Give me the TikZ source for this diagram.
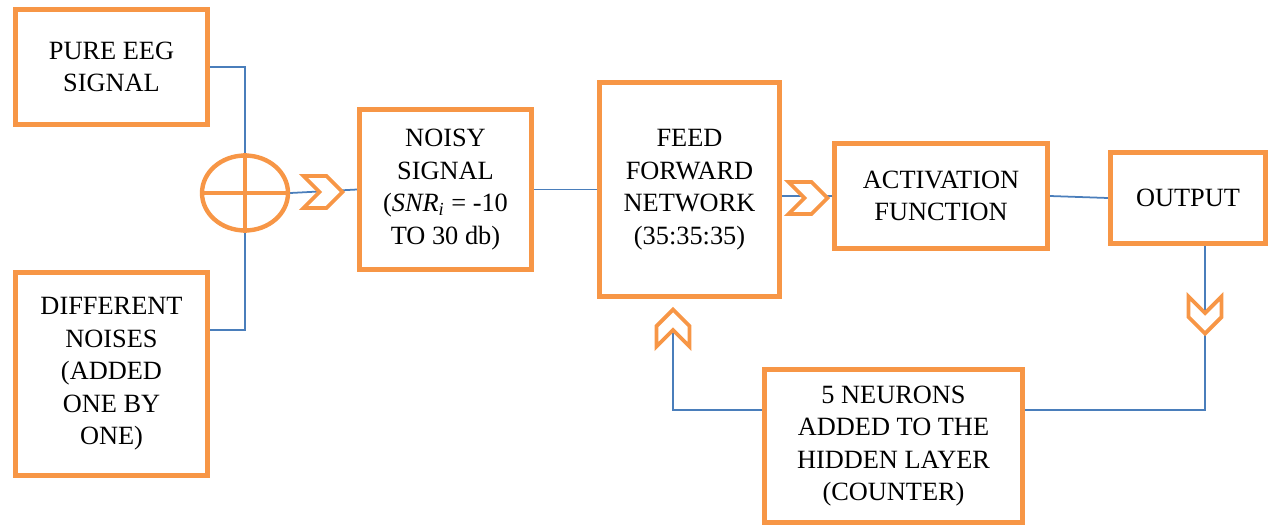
\documentclass[tikz,border=0pt]{standalone}
\usepackage{fontspec}
\setmainfont{LiberationSerif}[Extension=.ttf, UprightFont=*-Regular, ItalicFont=*-Italic,
  BoldFont=*-Bold, BoldItalicFont=*-BoldItalic]
\usetikzlibrary{shapes.geometric,shapes.symbols,backgrounds,calc}

\definecolor{boxorange}{HTML}{F79646}
\definecolor{wireblue}{HTML}{4A7EBB}

\begin{document}
\begin{tikzpicture}[
    x=0.02cm, y=0.02cm,
    font=\fontsize{15}{18.5}\selectfont,
    blk/.style={rectangle, draw=boxorange, line width=2.8pt, fill=white,
                align=center, inner sep=2pt},
    sumnode/.style={ellipse, draw=boxorange, line width=2.5pt, inner sep=0pt,
                minimum width=1.72cm, minimum height=1.5cm},
    chev/.style={signal, signal from=west, signal to=east, draw=boxorange,
                line width=2.2pt, fill=white, inner sep=0pt},
    chevr/.style={chev, minimum width=0.78cm, minimum height=0.64cm},
    chevd/.style={chev, rotate=-90, minimum width=0.74cm, minimum height=0.66cm},
    chevu/.style={chev, rotate=90, minimum width=0.74cm, minimum height=0.66cm},
    wire/.style={draw=wireblue, line width=1pt}
]
\useasboundingbox (0,0) rectangle (1271,529);

% ---- Blocks (absolute positions) ----
\node[blk, minimum width=3.84cm, minimum height=2.3cm]  (pure)   at (111.5,462) {PURE EEG\\SIGNAL};
\node[blk, minimum width=3.84cm, minimum height=4.06cm] (noises) at (111.5,155) {DIFFERENT\\NOISES\\(ADDED\\ONE BY\\ONE)};
\node[sumnode] (sum) at (245,336) {};
\node[blk, minimum width=3.44cm, minimum height=3.2cm]  (noisy)  at (445.5,339.5) {NOISY\\SIGNAL\\(\textit{SNR}\textsubscript{\textit{i}} = -10\\TO 30 db)};
\node[blk, minimum width=3.6cm, minimum height=4.28cm]  (ffn)    at (689.5,339.5) {FEED\\FORWARD\\NETWORK\\(35:35:35)};
\node[blk, minimum width=4.26cm, minimum height=2.1cm]  (act)    at (941,333) {ACTIVATION\\FUNCTION};
\node[blk, minimum width=3.1cm, minimum height=1.82cm]  (out)    at (1188,331) {OUTPUT};
\node[blk, minimum width=5.16cm, minimum height=3.06cm] (neur)   at (893.5,83) {5 NEURONS\\ADDED TO THE\\HIDDEN LAYER\\(COUNTER)};

% ---- Summing junction ----
\draw[boxorange, line width=2.5pt] (sum.north) -- (sum.south) (sum.west) -- (sum.east);

% ---- Chevrons ----
\node[chevr] (chin)  at (323,337) {};
\node[chevr] (chff)  at (808,331) {};
\node[chevd] (chout) at (1205,214) {};
\node[chevu] (chfb)  at (673,201) {};

% ---- Connectors ----
\begin{scope}[on background layer]
    \draw[wire] (pure.east) -| (sum.north);
    \draw[wire] ([yshift=0.88cm]noises.east) -| (sum.south);
    \draw[wire] (sum.east) -- (noisy.west);
    \draw[wire] (noisy.east) -- (noisy.east -| ffn.west);
    \draw[wire] (act.west -| ffn.east) -- (act.west);
    \draw[wire] (act.east) -- (out.west);
    \draw[wire] (chout |- out.south) |- ([yshift=0.72cm]neur.east);
    \draw[wire] ([yshift=0.72cm]neur.west) -| (chfb.center);
\end{scope}

\end{tikzpicture}
\end{document}
